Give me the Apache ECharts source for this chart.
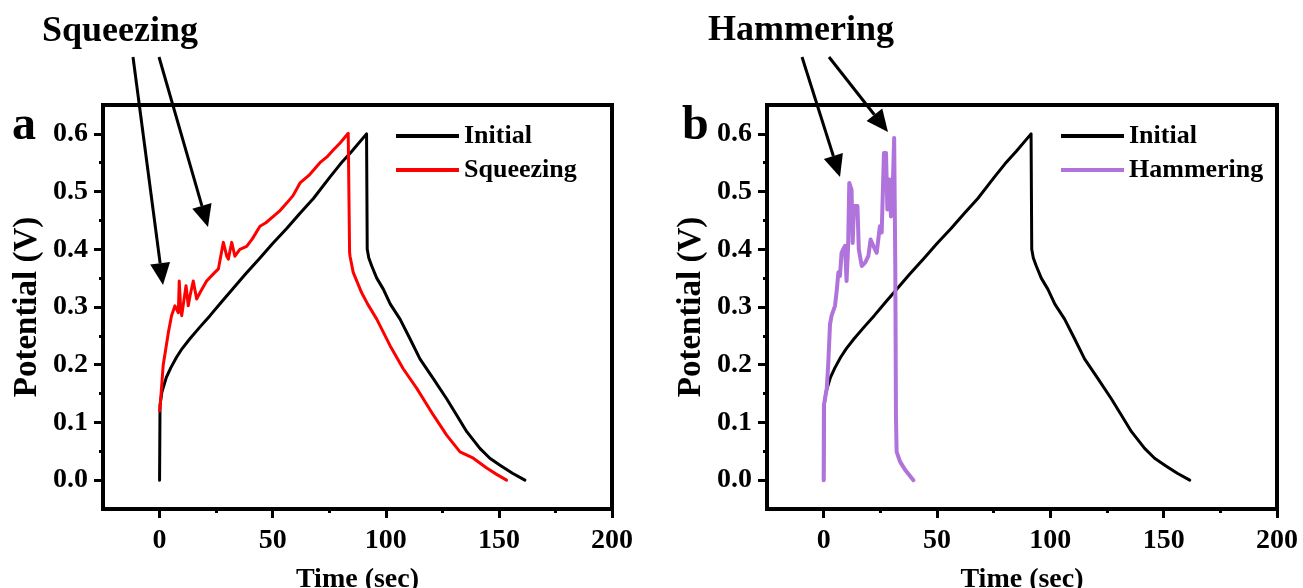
<!DOCTYPE html>
<html>
<head>
<meta charset="utf-8">
<script src="https://cdn.jsdelivr.net/npm/echarts@6/dist/echarts.min.js"></script>
<style>
  html, body { margin: 0; padding: 0; background: #fff; }
  #chart { width: 1303px; height: 588px; }
</style>
</head>
<body>
<div id="chart"></div>
<script>
// Galvanostatic charge/discharge curves: initial vs. after squeezing (a) and hammering (b)

// Initial curve (shared by both panels)
const initialTime = [0, 0.1, 0.2, 1, 3, 5, 7.5, 10, 13.4, 18, 22.3, 27, 32.5, 38, 44.4, 50, 56.2, 62, 68, 75.3, 80, 85, 91.5,
  91.8, 92.5, 93.8, 96, 98.9, 102, 106.3, 110.7, 115.1, 121, 126.9, 131.3, 135.8, 141.6, 146, 150.5, 156, 161.5];
const initialPotential = [0, 0.06, 0.13, 0.152, 0.178, 0.195, 0.213, 0.228, 0.245, 0.266, 0.285, 0.307, 0.332, 0.357, 0.385, 0.41, 0.436, 0.462, 0.488, 0.525, 0.548, 0.57, 0.6,
  0.40, 0.385, 0.371, 0.35, 0.331, 0.305, 0.279, 0.245, 0.21, 0.176, 0.141, 0.113, 0.084, 0.055, 0.038, 0.026, 0.012, 0.0];

// Under squeezing
const squeezeTime = [0, 0.2, 1.6, 3.9, 5.3, 6.8, 8.3, 8.7, 9.3, 9.8, 11.7, 12.7, 13.5, 14.9, 16.4, 17.9, 20.8, 23.7, 26, 28.2, 29.7, 30.4, 31.9, 33.3, 35.5, 38.5,
  41, 44.4, 47, 50.3, 53, 56.2, 59, 62.1, 66, 70.9, 74, 76.8, 80, 83.4, 83.9,
  84.0, 84.2, 85.6, 89.3, 92, 96, 101.9, 107.7, 113.7, 121, 126.9, 132.8, 138.7, 144.6, 149, 153.4];
const squeezePotential = [0.12, 0.124, 0.199, 0.256, 0.285, 0.302, 0.29, 0.345, 0.30, 0.285, 0.337, 0.302, 0.32, 0.345, 0.314, 0.325, 0.345, 0.357, 0.366, 0.412, 0.388, 0.383, 0.412, 0.388, 0.4, 0.405,
  0.418, 0.44, 0.446, 0.457, 0.466, 0.48, 0.493, 0.515, 0.528, 0.55, 0.56, 0.572, 0.585, 0.601, 0.6,
  0.395, 0.388, 0.36, 0.325, 0.305, 0.279, 0.233, 0.193, 0.159, 0.113, 0.078, 0.049, 0.038, 0.021, 0.01, 0.0];

// Under hammering
const hammerTime = [0, 0.1, 1.4, 2, 2.8, 3.5, 5, 5.8, 6.5, 7.2, 7.9, 8.6, 9.4, 10.1, 10.8, 11.3, 12.3, 12.8, 13.4, 14.9, 15.5, 16.8, 18.3, 19.7, 20.7, 21.9, 23.4, 24.8, 25.6,
  26.6, 27.5, 28.1, 29, 29.7, 30.4, 31.1, 31.6, 31.9, 32.2, 33.7, 35.9, 39.6];
const hammerPotential = [0, 0.13, 0.16, 0.2, 0.27, 0.285, 0.302, 0.33, 0.36, 0.354, 0.394, 0.40, 0.406, 0.345, 0.406, 0.515, 0.503, 0.411, 0.475, 0.475, 0.4, 0.371, 0.377, 0.388, 0.417, 0.406, 0.394, 0.44, 0.429,
  0.567, 0.567, 0.469, 0.521, 0.457, 0.497, 0.593, 0.371, 0.107, 0.049, 0.032, 0.018, 0.0];

// Axis tick values
const xMajorTicks = [0, 50, 100, 150, 200];
const xMinorTicks = [25, 75, 125, 175];
const yMajorTicks = [0, 0.1, 0.2, 0.3, 0.4, 0.5, 0.6];
const yMinorTicks = [0.05, 0.15, 0.25, 0.35, 0.45, 0.55];

const FONT = "'Liberation Serif', 'Times New Roman', serif";
const BLACK = '#000000';
const RED = '#ff0000';
const PURPLE = '#b073dc';

const zip = (xs, ys) => xs.map((x, i) => [x, ys[i]]);

function xAxes(gridIndex) {
  return [
    {
      gridIndex, type: 'value', min: -25, max: 200, position: 'bottom',
      name: 'Time (sec)', nameLocation: 'middle', nameGap: 57,
      nameTextStyle: { fontFamily: FONT, fontWeight: 'bold', fontSize: 28, color: BLACK },
      axisLine: { show: true, onZero: false, lineStyle: { color: BLACK, width: 4 } },
      axisTick: { show: true, customValues: xMajorTicks, length: 9, lineStyle: { color: BLACK, width: 3 } },
      axisLabel: { customValues: xMajorTicks, margin: 18, fontFamily: FONT, fontWeight: 'bold', fontSize: 28, color: BLACK },
      splitLine: { show: false }
    },
    {
      gridIndex, type: 'value', min: -25, max: 200, position: 'bottom',
      axisLine: { show: false, onZero: false },
      axisTick: { show: true, customValues: xMinorTicks, length: 4, lineStyle: { color: BLACK, width: 3 } },
      axisLabel: { show: false },
      splitLine: { show: false }
    }
  ];
}

function yAxes(gridIndex) {
  return [
    {
      gridIndex, type: 'value', min: -0.05, max: 0.65, position: 'left',
      name: 'Potential (V)', nameLocation: 'middle', nameGap: 59,
      nameTextStyle: { fontFamily: FONT, fontWeight: 'bold', fontSize: 33, color: BLACK },
      axisLine: { show: true, onZero: false, lineStyle: { color: BLACK, width: 4 } },
      axisTick: { show: true, customValues: yMajorTicks, length: 9, lineStyle: { color: BLACK, width: 3 } },
      axisLabel: { customValues: yMajorTicks, margin: 15, formatter: v => v.toFixed(1),
        fontFamily: FONT, fontWeight: 'bold', fontSize: 28, color: BLACK },
      splitLine: { show: false }
    },
    {
      gridIndex, type: 'value', min: -0.05, max: 0.65, position: 'left',
      axisLine: { show: false, onZero: false },
      axisTick: { show: true, customValues: yMinorTicks, length: 4, lineStyle: { color: BLACK, width: 3 } },
      axisLabel: { show: false },
      splitLine: { show: false }
    }
  ];
}

function lineSeries(name, data, color, width, xi, yi) {
  return {
    name, type: 'line', data, xAxisIndex: xi, yAxisIndex: yi,
    symbol: 'none', showSymbol: false, smooth: false, animation: false,
    lineStyle: { color, width, join: 'round', cap: 'round' },
    itemStyle: { color }
  };
}

function arrow(x1, y1, x2, y2) {
  const len = Math.hypot(x2 - x1, y2 - y1);
  const ux = (x2 - x1) / len, uy = (y2 - y1) / len;
  const head = 22, half = 10;
  const bx = x2 - ux * head, by = y2 - uy * head;
  return [
    { type: 'line', shape: { x1, y1, x2: bx, y2: by }, style: { stroke: BLACK, lineWidth: 3 }, z: 100 },
    { type: 'polygon', shape: { points: [[x2, y2], [bx - uy * half, by + ux * half], [bx + uy * half, by - ux * half]] },
      style: { fill: BLACK }, z: 100 }
  ];
}

function label(text, x, y, size) {
  return { type: 'text', left: x, top: y, z: 100,
    style: { text, fontFamily: FONT, fontWeight: 'bold', fontSize: size, fill: BLACK } };
}

const legendText = { fontFamily: FONT, fontWeight: 'bold', fontSize: 26, color: BLACK };
const legendBase = { orient: 'vertical', icon: 'rect', itemWidth: 63, itemHeight: 4, itemGap: 8,
  textStyle: legendText, selectedMode: false };

const chart = echarts.init(document.getElementById('chart'), null, { renderer: 'canvas' });
chart.setOption({
  backgroundColor: '#ffffff',
  animation: false,
  grid: [
    { left: 103, top: 105, width: 509, height: 404, show: true, borderColor: BLACK, borderWidth: 4,
      backgroundColor: 'transparent', containLabel: false, outerBoundsMode: 'none' },
    { left: 767, top: 105, width: 510, height: 404, show: true, borderColor: BLACK, borderWidth: 4,
      backgroundColor: 'transparent', containLabel: false, outerBoundsMode: 'none' }
  ],
  xAxis: [...xAxes(0), ...xAxes(1)],
  yAxis: [...yAxes(0), ...yAxes(1)],
  legend: [
    Object.assign({ left: 391, top: 118, data: ['Initial', 'Squeezing'] }, legendBase),
    Object.assign({ left: 1056, top: 118, data: ['Initial', 'Hammering'] }, legendBase)
  ],
  series: [
    lineSeries('Initial', zip(initialTime, initialPotential), BLACK, 3, 0, 0),
    lineSeries('Squeezing', zip(squeezeTime, squeezePotential), RED, 3, 0, 0),
    lineSeries('Initial', zip(initialTime, initialPotential), BLACK, 3, 2, 2),
    lineSeries('Hammering', zip(hammerTime, hammerPotential), PURPLE, 4, 2, 2)
  ],
  graphic: [
    label('Squeezing', 42, 14, 36),
    label('Hammering', 708, 13, 36),
    label('a', 12, 103, 48),
    label('b', 682, 103, 48),
    ...arrow(133, 57, 163, 285),
    ...arrow(159, 57, 208, 227),
    ...arrow(802, 57, 840, 177),
    ...arrow(829, 57, 888, 132)
  ]
});
</script>
</body>
</html>
